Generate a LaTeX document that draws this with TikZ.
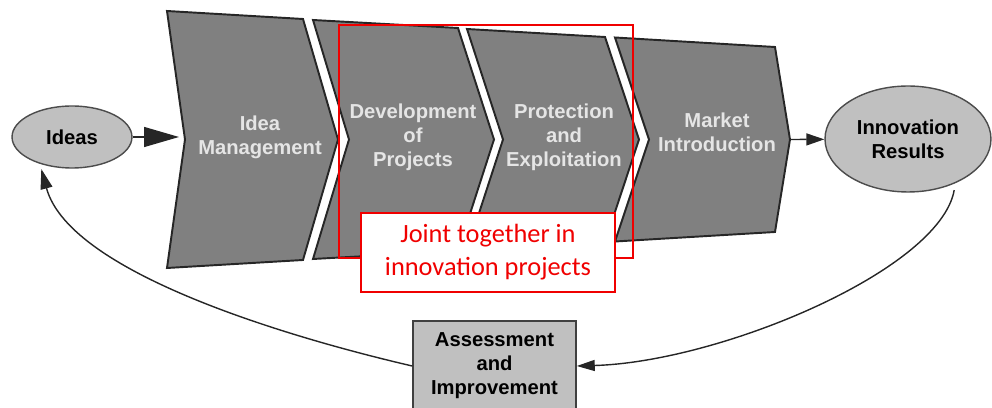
\documentclass[tikz,border=0pt]{standalone}
\usepackage{fontspec}
\setmainfont{Liberation Sans}
\newfontfamily\notefont{Carlito}
\usetikzlibrary{arrows.meta}
\usetikzlibrary{shapes.geometric}

\definecolor{chevgray}{HTML}{808080}
\definecolor{ovalgray}{HTML}{C0C0C0}
\definecolor{notered}{HTML}{F00000}

\tikzset{
  chevron/.style={fill=chevgray, draw=black!85, line width=1.1pt, line join=miter},
  stagetext/.style={text=white!90!black, align=center,
    font=\bfseries\fontsize{11.5}{13.6}\selectfont},
  outcome/.style={ellipse, fill=ovalgray, draw=black!70, line width=0.8pt,
    inner sep=0pt, align=center, font=\bfseries\fontsize{11.5}{13.6}\selectfont},
  loopline/.style={line width=0.8pt, draw=black!85},
}

\begin{document}
\begin{tikzpicture}[x=0.02cm, y=-0.02cm]
  \useasboundingbox (0,0) rectangle (992,408);

  % process band
  \draw[chevron] (167,11) -- (303,19) -- (338,139.5) -- (303,260) -- (167,268) -- (185,139.5) -- cycle;
  \draw[chevron] (313,20) -- (458,28) -- (494,139.5) -- (458,251) -- (313,259) -- (349,139.5) -- cycle;
  \draw[chevron] (467,29) -- (605,37) -- (639,139.5) -- (605,242) -- (467,250) -- (503,139.5) -- cycle;
  \draw[chevron] (615,37.5) -- (775,47) -- (790,139.5) -- (775,232) -- (615,241.5) -- (649,139.5) -- cycle;

  \node[stagetext] (im) at (260,137) {Idea\\Management};
  \node[stagetext] (dp) at (413,137) {Development\\of\\Projects};
  \node[stagetext] (pe) at (564,137) {Protection\\and\\Exploitation};
  \node[stagetext] (mi) at (717,132) {Market\\Introduction};

  \coordinate (im-in) at (179,137);
  \coordinate (mi-out) at (790,139.5);

  % highlight
  \draw[notered, line width=1.7pt] (339,25) rectangle (633,258);
  \node[draw=notered, fill=white, line width=0.6pt, minimum width=5.08cm,
    minimum height=1.58cm, align=center, text=notered,
    font=\notefont\fontsize{15}{18.7}\selectfont] (note) at (488,252.5)
    {Joint together in\\innovation projects};

  % start, result and feedback
  \node[outcome, minimum width=2.4cm, minimum height=1.24cm] (ideas) at (72,137) {Ideas};
  \node[outcome, minimum width=3.32cm, minimum height=2.12cm] (res) at (908,139) {Innovation\\Results};
  \node[draw=black!75, fill=ovalgray, line width=0.9pt, minimum width=3.26cm,
    minimum height=1.8cm, align=center, inner sep=0pt,
    font=\bfseries\fontsize{11.5}{13.6}\selectfont] (asm) at (494.5,366)
    {Assessment\\and\\Improvement};

  \draw[loopline, -{Triangle[length=0.7cm, width=0.4cm]}] (ideas) -- (im-in);
  \draw[loopline, -{Triangle[length=0.36cm, width=0.24cm]}] (mi-out) -- (res);
  \draw[loopline, -{Triangle[length=0.4cm, width=0.24cm]}, shorten >=3pt]
    (asm.west) .. controls (300,340) and (70,275) .. (ideas.-140);
  \draw[loopline, -{Triangle[length=0.36cm, width=0.22cm]}, shorten <=4pt]
    (res.-43) .. controls (940,270) and (720,362) .. (asm.east);
\end{tikzpicture}
\end{document}
